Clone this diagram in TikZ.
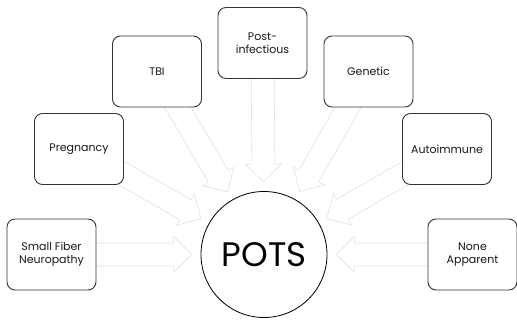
\documentclass[tikz,border=0pt]{standalone}
\usepackage{fontspec}
\setmainfont{Poppins}
\usetikzlibrary{calc,backgrounds}
\definecolor{boxgray}{HTML}{333333}
\definecolor{arrowgray}{HTML}{E2E2E2}

\begin{document}
\begin{tikzpicture}[x=1pt,y=1pt,
      cause/.style={rectangle, rounded corners=8pt, draw=boxgray, line width=0.9pt, fill=white, minimum width=89pt, minimum height=71pt, align=center, text=black!90, font=\fontsize{11}{13}\selectfont},
      hub/.style={circle, draw=black, line width=0.8pt, fill=white, minimum size=126pt, inner sep=0pt, font=\fontsize{34}{36}\selectfont},
      blockarrow/.style={draw=arrowgray, fill=white, line width=0.6pt, line join=miter}]

\useasboundingbox (0,0) rectangle (517,320);

\node[hub] (pots) at (264,65.5) {POTS};
\node[cause] (sfn) at (51.5,65.5) {Small Fiber\\Neuropathy};
\node[cause] (preg) at (79,171) {Pregnancy};
\node[cause] (tbi) at (157,248.5) {TBI};
\node[cause] (post) at (262.5,277) {Post-\\infectious};
\node[cause] (gen) at (368.5,248.5) {Genetic};
\node[cause] (auto) at (447,171) {Autoimmune};
\node[cause] (none) at (472.5,65.5) {None\\Apparent};

% block arrows sit behind the boxes, from each cause towards pots
\begin{scope}[on background layer]
\foreach \src in {sfn,preg,tbi,post,gen,auto,none}{
  \path (\src) -- coordinate[pos=0] (s) coordinate[pos=1] (e) (pots);
  \coordinate (t) at ($(e)!9pt!(s)$);
  \coordinate (b) at ($(t)!18pt!(s)$);
  \coordinate (s) at ($(s)!-12pt!(t)$);
  \draw[blockarrow] ($(s)!11.5pt!90:(t)$) -- ($(b)!11.5pt!90:(t)$) -- ($(b)!18pt!90:(t)$) -- (t)
    -- ($(b)!18pt!-90:(t)$) -- ($(b)!11.5pt!-90:(t)$) -- ($(s)!11.5pt!-90:(t)$) -- cycle;
}
\end{scope}

\end{tikzpicture}
\end{document}
